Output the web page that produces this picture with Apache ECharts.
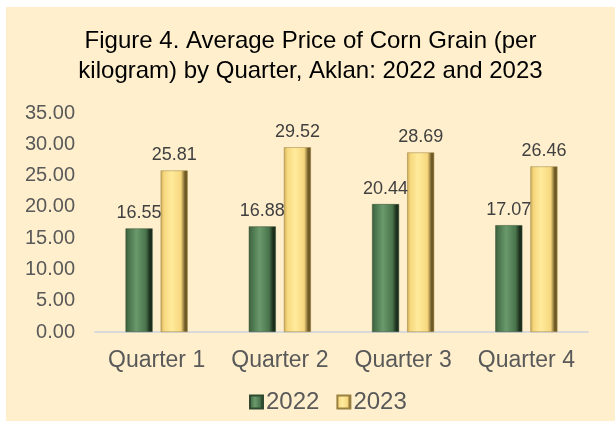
<!DOCTYPE html>
<html>
<head>
<meta charset="utf-8">
<script src="https://cdn.jsdelivr.net/npm/echarts@6/dist/echarts.min.js"></script>
<style>
  html, body { margin: 0; padding: 0; background: #fff; }
  #main { position: absolute; left: 6px; top: 7px; width: 609px; height: 414px; }
</style>
</head>
<body>
<div id="main"></div>
<script>
// data
var quarters = ['Quarter 1', 'Quarter 2', 'Quarter 3', 'Quarter 4'];
var price2022 = [16.55, 16.88, 20.44, 17.07];
var price2023 = [25.81, 29.52, 28.69, 26.46];

var chart = echarts.init(document.getElementById('main'));

// bevelled look: dark edges, light middle
function bevel(edge, light, mid, dark) {
  return new echarts.graphic.LinearGradient(0, 0, 1, 0, [
    { offset: 0, color: edge },
    { offset: 0.12, color: mid },
    { offset: 0.4, color: light },
    { offset: 0.75, color: mid },
    { offset: 0.9, color: dark },
    { offset: 1, color: dark }
  ]);
}

var font = 'Liberation Sans, Arial, sans-serif';

var option = {
  backgroundColor: '#FFEFCD',
  title: {
    text: 'Figure 4. Average Price of Corn Grain (per\nkilogram) by Quarter, Aklan: 2022 and 2023',
    left: 'center',
    top: 14,
    textStyle: {
      color: '#000',
      fontFamily: font,
      fontWeight: 'normal',
      fontSize: 24,
      lineHeight: 30
    }
  },
  legend: {
    data: ['2022', '2023'],
    bottom: 2,
    left: 238,
    itemWidth: 13,
    itemHeight: 13,
    itemGap: 17,
    icon: 'rect',
    textStyle: { color: '#595959', fontFamily: font, fontSize: 24, padding: [0, 0, 0, -2] }
  },
  grid: { left: 89, right: 27, top: 106, bottom: 89 },
  xAxis: {
    type: 'category',
    data: quarters,
    axisLine: { lineStyle: { color: '#D9D9D9', width: 2 } },
    axisTick: { show: false },
    axisLabel: { color: '#595959', fontFamily: font, fontSize: 23, margin: 17, interval: 0 }
  },
  yAxis: {
    type: 'value',
    min: 0,
    max: 35,
    interval: 5,
    axisLine: { show: false },
    axisTick: { show: false },
    splitLine: { show: false },
    axisLabel: {
      color: '#595959', fontFamily: font, fontSize: 20, margin: 20,
      formatter: function (v) { return v.toFixed(2); }
    }
  },
  series: [
    {
      name: '2022',
      type: 'bar',
      data: price2022,
      barWidth: 27,
      barGap: '30%',
      itemStyle: {
        color: bevel('#3a5c3c', '#6a9a6c', '#4a744c', '#1c2f1d'),
        borderColor: '#2f4a30',
        borderWidth: 0.5
      },
      label: {
        show: true, position: 'top', distance: 6,
        color: '#404040', fontFamily: font, fontSize: 18,
        formatter: function (p) { return p.value.toFixed(2); }
      }
    },
    {
      name: '2023',
      type: 'bar',
      data: price2023,
      barWidth: 27,
      itemStyle: {
        color: bevel('#c9a955', '#ffeb9c', '#f7d77e', '#6e5a26'),
        borderColor: '#9a8040',
        borderWidth: 0.5
      },
      label: {
        show: true, position: 'top', distance: 6,
        color: '#404040', fontFamily: font, fontSize: 18,
        formatter: function (p) { return p.value.toFixed(2); }
      }
    }
  ]
};

chart.setOption(option);
</script>
</body>
</html>
